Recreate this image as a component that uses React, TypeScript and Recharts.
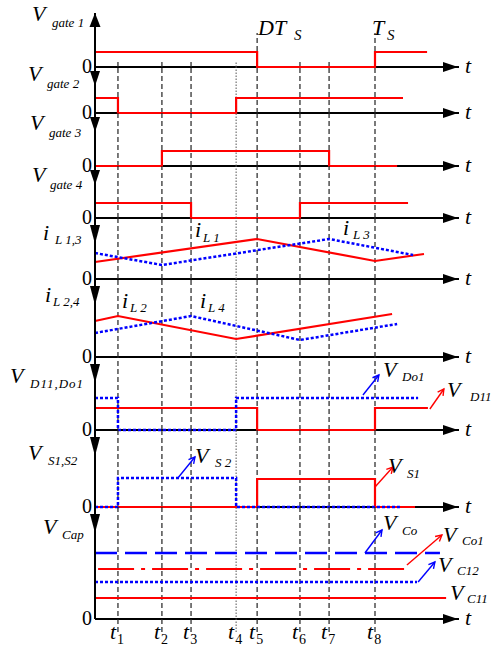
import React from 'react';
import { LineChart, Line, XAxis, YAxis, ReferenceLine, ReferenceDot } from 'recharts';

type Pt = { t: number; v: number };

// time axis, one switching period Ts = 100
const T_END = 130;
const tMarks = [8.2, 23.9, 34.3, 50.4, 57.9, 73.2, 83.6, 100];

// gate signals (levels at each transition, step after)
const gate1: Pt[] = [{ t: 0, v: 1.5 }, { t: 57.9, v: 0 }, { t: 100, v: 1.5 }, { t: 118.6, v: 1.5 }];
const gate2: Pt[] = [{ t: 0, v: 1.5 }, { t: 8.2, v: 0 }, { t: 50.4, v: 1.5 }, { t: 110, v: 1.5 }];
const gate3: Pt[] = [{ t: 0, v: 0 }, { t: 23.9, v: 1.5 }, { t: 83.6, v: 0 }, { t: 107.9, v: 0 }];
const gate4: Pt[] = [{ t: 0, v: 1.5 }, { t: 34.3, v: 0 }, { t: 73.2, v: 1.5 }, { t: 111.8, v: 1.5 }];

// inductor currents (corner points)
const iL1: Pt[] = [{ t: 0, v: 1.7 }, { t: 57.9, v: 4.0 }, { t: 100, v: 1.8 }, { t: 117.5, v: 2.5 }];
const iL3: Pt[] = [{ t: 0, v: 2.6 }, { t: 23.9, v: 1.4 }, { t: 83.6, v: 4.0 }, { t: 113.6, v: 2.4 }];
const iL2: Pt[] = [{ t: 0, v: 3.6 }, { t: 8.2, v: 4.1 }, { t: 50.4, v: 1.8 }, { t: 106.1, v: 4.3 }];
const iL4: Pt[] = [{ t: 0, v: 2.4 }, { t: 34.3, v: 4.1 }, { t: 73.2, v: 1.7 }, { t: 107.9, v: 3.3 }];

// diode and switch voltages
const vD11: Pt[] = [{ t: 0, v: 2.2 }, { t: 57.9, v: 0 }, { t: 100, v: 2.2 }, { t: 118.9, v: 2.2 }];
const vDo1: Pt[] = [{ t: 0, v: 3.2 }, { t: 8.2, v: 0 }, { t: 50.4, v: 3.2 }, { t: 115.4, v: 3.2 }];
const vS1: Pt[] = [{ t: 0, v: 0 }, { t: 57.9, v: 2.8 }, { t: 100, v: 0 }, { t: 114.3, v: 0 }];
const vS2: Pt[] = [{ t: 0, v: 0 }, { t: 8.2, v: 2.9 }, { t: 50.4, v: 0 }, { t: 108.9, v: 0 }];

// capacitor voltages
const vCo: Pt[] = [{ t: 0, v: 6.6 }, { t: 123.2, v: 6.6 }];
const vCo1: Pt[] = [{ t: 1.1, v: 5.0 }, { t: 111.8, v: 5.0 }];
const vC12: Pt[] = [{ t: 0, v: 3.7 }, { t: 115.0, v: 3.7 }];
const vC11: Pt[] = [{ t: 0, v: 2.1 }, { t: 125.4, v: 2.1 }];

const SERIF = "'Liberation Serif', 'Times New Roman', serif";
const RED = '#ff0000';
const BLUE = '#0000ff';
const PX_PER_UNIT = 10;
const PLOT_LEFT = 95;
const PLOT_RIGHT = 459;
const PAD = 30;

type Series = { data: Pt[]; color: string; step?: boolean; dash?: string; width?: number };
type Note = { from: Pt; to: Pt; color: string };
type Panel = { top: number; base: number; series: Series[]; notes?: Note[]; small?: boolean };

const solid = (data: Pt[], step = false): Series => ({ data, color: RED, step });
const dotted = (data: Pt[], step = false): Series => ({ data, color: BLUE, step, dash: '3 2', width: 2.5 });

const panels: Panel[] = [
  { top: 13, base: 67, series: [solid(gate1, true)], small: true },
  { top: 67, base: 113, series: [solid(gate2, true)], small: true },
  { top: 113, base: 166, series: [solid(gate3, true)], small: true },
  { top: 166, base: 218, series: [solid(gate4, true)], small: true },
  { top: 218, base: 279, series: [solid(iL1), dotted(iL3)] },
  { top: 279, base: 357, series: [solid(iL2), dotted(iL4)] },
  {
    top: 357, base: 430,
    series: [solid(vD11, true), dotted(vDo1, true)],
    notes: [
      { from: { t: 95.7, v: 3.5 }, to: { t: 101.4, v: 5.5 }, color: BLUE },
      { from: { t: 119.6, v: 2.1 }, to: { t: 124.6, v: 4.1 }, color: RED },
    ],
  },
  {
    top: 430, base: 507,
    series: [solid(vS1, true), dotted(vS2, true)],
    notes: [
      { from: { t: 29.6, v: 2.9 }, to: { t: 35.7, v: 5.0 }, color: BLUE },
      { from: { t: 100, v: 2.0 }, to: { t: 106.4, v: 4.0 }, color: RED },
    ],
  },
  {
    top: 507, base: 619,
    series: [
      { data: vCo, color: BLUE, dash: '22 8', width: 2.5 },
      { data: vCo1, color: RED, dash: '36 7 4 7', width: 2.2 },
      { data: vC12, color: BLUE, dash: '3 2', width: 2.5 },
      { data: vC11, color: RED },
    ],
    notes: [
      { from: { t: 96.4, v: 6.6 }, to: { t: 102.5, v: 8.9 }, color: BLUE },
      { from: { t: 111.4, v: 5.4 }, to: { t: 123.9, v: 8.4 }, color: RED },
      { from: { t: 115.4, v: 3.7 }, to: { t: 121.4, v: 5.7 }, color: BLUE },
    ],
  },
];

const labels = [
  { main: 'V', x: 32, y: 21, sub: 'gate 1', sx: 52, sy: 27 },
  { main: 'DT', x: 258, y: 35, sub: 'S', sx: 294, sy: 40, subSize: 15 },
  { main: 'T', x: 372, y: 35, sub: 'S', sx: 387, sy: 40, subSize: 15 },
  { main: 'V', x: 28, y: 81, sub: 'gate 2', sx: 47, sy: 88 },
  { main: 'V', x: 30, y: 130, sub: 'gate 3', sx: 49, sy: 137 },
  { main: 'V', x: 32, y: 182, sub: 'gate 4', sx: 50, sy: 189 },
  { main: 'i', x: 43, y: 240, sub: 'L 1,3', sx: 55, sy: 244 },
  { main: 'i', x: 195, y: 237, sub: 'L 1', sx: 203, sy: 242 },
  { main: 'i', x: 343, y: 235, sub: 'L 3', sx: 353, sy: 239 },
  { main: 'i', x: 45, y: 302, sub: 'L 2,4', sx: 53, sy: 306 },
  { main: 'i', x: 122, y: 308, sub: 'L 2', sx: 130, sy: 312 },
  { main: 'i', x: 200, y: 308, sub: 'L 4', sx: 208, sy: 312 },
  { main: 'V', x: 10, y: 383, sub: 'D11,Do1', sx: 30, sy: 388, spacing: 1 },
  { main: 'V', x: 383, y: 377, sub: 'Do1', sx: 402, sy: 381 },
  { main: 'V', x: 447, y: 397, sub: 'D11', sx: 470, sy: 401 },
  { main: 'V', x: 28, y: 460, sub: 'S1,S2', sx: 48, sy: 465 },
  { main: 'V', x: 195, y: 463, sub: 'S 2', sx: 215, sy: 467 },
  { main: 'V', x: 388, y: 473, sub: 'S1', sx: 407, sy: 478 },
  { main: 'V', x: 43, y: 534, sub: 'Cap', sx: 62, sy: 539 },
  { main: 'V', x: 383, y: 530, sub: 'Co', sx: 402, sy: 535 },
  { main: 'V', x: 443, y: 542, sub: 'Co1', sx: 462, sy: 545 },
  { main: 'V', x: 438, y: 572, sub: 'C12', sx: 457, sy: 575 },
  { main: 'V', x: 450, y: 600, sub: 'C11', sx: 467, sy: 603 },
];

// arrowhead + "t" at the end of each time axis
const AxisHead = ({ cx, cy }: any) => (
  <g>
    <polygon points={`${cx - 16},${cy - 5} ${cx - 1},${cy} ${cx - 16},${cy + 5}`} fill="#000" />
    <text x={cx + 6} y={cy + 6} fontFamily={SERIF} fontStyle="italic" fontSize={22} fill="#000">t</text>
  </g>
);

const UpHead = ({ cx, cy }: any) => (
  <polygon points={`${cx - 5.5},${cy + 14} ${cx},${cy} ${cx + 5.5},${cy + 14}`} fill="#000" />
);

const downHead = (small?: boolean) => ({ cx, cy }: any) => {
  const a = small ? 4 : 7;
  const b = small ? 19 : 26;
  return <polygon points={`${cx - 5},${cy + a} ${cx + 5},${cy + a} ${cx},${cy + b}`} fill="#000" />;
};

const noteArrow = (color: string) => (props: any) => {
  const { x1, y1, x2, y2 } = props;
  const a = Math.atan2(y2 - y1, x2 - x1);
  const h = 7;
  const p1 = [x2 + h * Math.cos(a + 2.65), y2 + h * Math.sin(a + 2.65)];
  const p2 = [x2 + h * Math.cos(a - 2.65), y2 + h * Math.sin(a - 2.65)];
  return (
    <g stroke={color} strokeWidth={1.4} fill="none">
      <line x1={x1} y1={y1} x2={x2} y2={y2} />
      <polyline points={`${p1[0]},${p1[1]} ${x2},${y2} ${p2[0]},${p2[1]}`} />
    </g>
  );
};

const ZeroTick = ({ x, y }: any) => (
  <text x={x} y={y} dy={6} textAnchor="end" fontFamily={SERIF} fontSize={20} fill="#000">0</text>
);

const TimeTick = ({ x, y, index }: any) => (
  <text x={x - 8} y={y + 20} fontFamily={SERIF} fontStyle="italic" fontSize={22} fill="#000">
    t<tspan fontSize={14} dx={1} dy={5} fontStyle="normal">{index + 1}</tspan>
  </text>
);

function PanelChart({ p, index, last }: { p: Panel; index: number; last: boolean }) {
  const yMax = (p.base - p.top) / PX_PER_UNIT;
  const bottomPad = last ? 40 : PAD;
  return (
    <div style={{ position: 'absolute', left: 0, top: p.top - PAD }}>
      <LineChart
        width={497}
        height={p.base - p.top + PAD + bottomPad}
        margin={{ top: PAD, right: 497 - PLOT_RIGHT, bottom: bottomPad - 1, left: 0 }}
      >
        <XAxis
          type="number"
          dataKey="t"
          domain={[0, T_END]}
          height={1}
          axisLine={false}
          tickLine={false}
          tickSize={0}
          tickMargin={0}
          ticks={last ? tMarks : [0]}
          interval={0}
          tick={last ? <TimeTick /> : false}
        />
        <YAxis
          type="number"
          domain={[0, yMax]}
          width={PLOT_LEFT}
          ticks={[0]}
          tickLine={false}
          tickSize={0}
          tickMargin={3}
          axisLine={{ stroke: '#000', strokeWidth: 2 }}
          tick={<ZeroTick />}
        />
        {/* time axis line, kept beneath the waveforms */}
        <ReferenceLine y={0} stroke="#000" strokeWidth={2} />
        {tMarks.map((t, i) => {
          let y0 = 0;
          let y1 = yMax;
          if (index === 0) y1 = i === 4 || i === 7 ? 3.4 : 0.5;
          if (last) y0 = -1.3;
          const fine = i === 3;
          return (
            <ReferenceLine
              key={i}
              segment={[{ x: t, y: y0 }, { x: t, y: y1 }]}
              ifOverflow="visible"
              stroke={fine ? '#555' : '#222'}
              strokeWidth={fine ? 1 : 1.2}
              strokeDasharray={fine ? '1.5 1.5' : '5 3'}
            />
          );
        })}
        {p.series.map((s, i) => (
          <Line
            key={i}
            data={s.data}
            dataKey="v"
            type={s.step ? 'stepAfter' : 'linear'}
            stroke={s.color}
            strokeWidth={s.width ?? 2.2}
            strokeDasharray={s.dash}
            dot={false}
            activeDot={false}
            isAnimationActive={false}
          />
        ))}
        {(p.notes ?? []).map((n, i) => (
          <ReferenceLine
            key={`n${i}`}
            segment={[{ x: n.from.t, y: n.from.v }, { x: n.to.t, y: n.to.v }]}
            ifOverflow="visible"
            shape={noteArrow(n.color)}
          />
        ))}
        <ReferenceDot x={T_END} y={0} ifOverflow="visible" shape={AxisHead} />
        <ReferenceDot x={0} y={yMax} ifOverflow="visible" shape={index === 0 ? UpHead : downHead(p.small)} />
      </LineChart>
    </div>
  );
}

export default function App() {
  return (
    <div style={{ position: 'absolute', left: 0, top: 0, width: 497, height: 650, background: '#fff', overflow: 'hidden' }}>
      {panels.map((p, i) => (
        <PanelChart key={i} p={p} index={i} last={i === panels.length - 1} />
      ))}
      <svg width={497} height={650} style={{ position: 'absolute', left: 0, top: 0, pointerEvents: 'none' }}>
        {labels.map((l, i) => (
          <g key={i} fontFamily={SERIF} fontStyle="italic" fill="#000">
            <text x={l.x} y={l.y} fontSize={22}>{l.main}</text>
            <text x={l.sx} y={l.sy} fontSize={l.subSize ?? 13} letterSpacing={l.spacing ?? 0}>{l.sub}</text>
          </g>
        ))}
      </svg>
    </div>
  );
}
